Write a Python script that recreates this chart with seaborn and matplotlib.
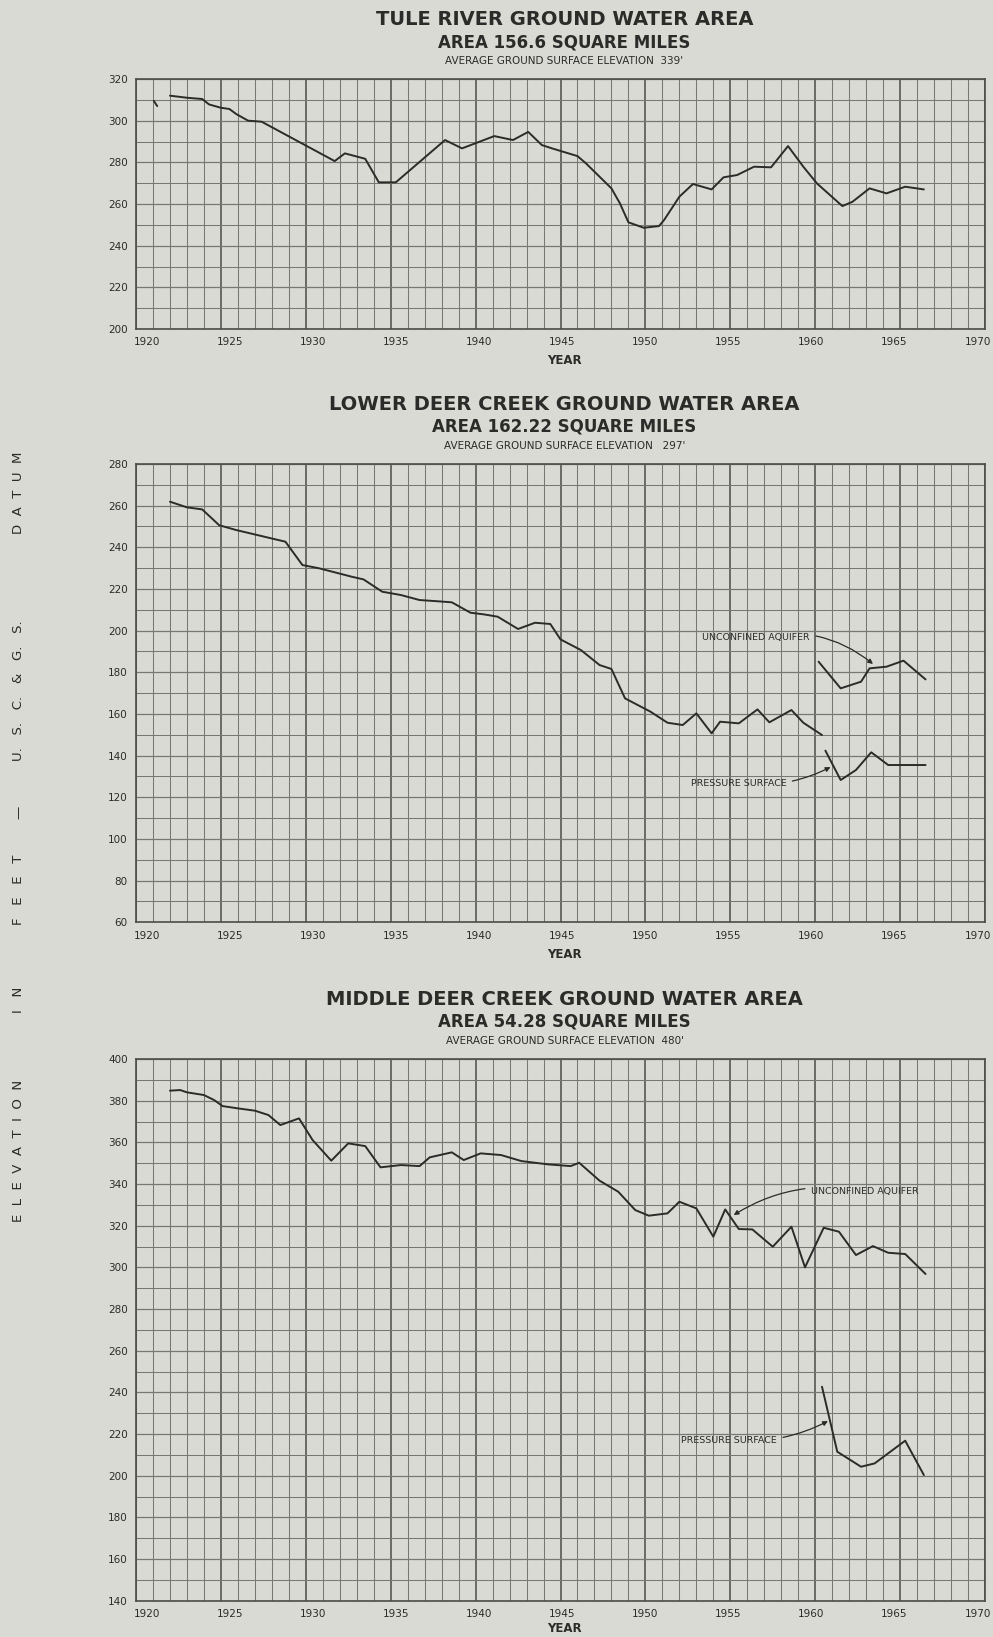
import matplotlib
matplotlib.use("Agg")
import matplotlib.pyplot as plt
from matplotlib.ticker import MultipleLocator
from matplotlib.transforms import ScaledTranslation
import seaborn as sns
import pandas as pd

# ---------------- DATA ----------------
# Panel 1: Tule River ground water area
tule_years = [1922.0, 1923.0, 1923.9, 1924.3, 1925.0, 1925.5, 1925.9, 1926.6, 1927.4,
              1931.7, 1932.3, 1933.5, 1934.3, 1935.3, 1938.2, 1939.2, 1941.1, 1942.2,
              1943.1, 1943.9, 1944.5, 1946.0, 1946.5, 1948.0, 1948.5, 1949.0, 1949.9,
              1950.8, 1951.1, 1952.0, 1952.8, 1953.9, 1954.6, 1955.4, 1956.4, 1957.4,
              1958.4, 1959.3, 1960.1, 1961.6, 1962.2, 1963.2, 1964.2, 1965.3, 1966.4]
tule_elev = [312, 311, 310.4, 307.8, 306.2, 305.6, 303.2, 300, 299.5,
             280.6, 284.3, 281.7, 270.4, 270.4, 290.7, 286.7, 292.6, 290.7,
             294.6, 288.3, 286.7, 283, 279.5, 267.5, 260.3, 251.2, 248.6,
             249.4, 252.3, 263.5, 269.6, 267, 272.8, 273.9, 277.9, 277.6,
             287.8, 277.9, 269.9, 259, 261.1, 267.5, 265.1, 268.3, 267]
tule_frag_years = [1921.05, 1921.25]
tule_frag_elev = [309.5, 307.0]

# Panel 2: Lower Deer Creek ground water area
lower_years = [1922.0, 1923.0, 1923.9, 1924.9, 1925.9, 1928.8, 1929.8, 1930.8, 1931.8,
               1932.7, 1933.4, 1934.5, 1935.6, 1936.7, 1937.6, 1938.6, 1939.7, 1940.5,
               1941.3, 1942.5, 1943.5, 1944.4, 1945.0, 1946.2, 1947.3, 1948.0, 1948.8,
               1950.3, 1951.3, 1952.2, 1953.0, 1953.9, 1954.4, 1955.5, 1956.6, 1957.3,
               1958.6, 1959.3, 1960.4]
lower_elev = [261.9, 259.2, 258.2, 250.6, 248.3, 242.7, 231.5, 229.9, 227.8,
              225.9, 224.6, 218.7, 217.1, 214.7, 214.2, 213.6, 208.6, 207.8,
              206.7, 200.8, 203.8, 203.2, 195.8, 190.7, 183.5, 181.6, 167.5,
              161.1, 155.8, 154.7, 160.3, 150.7, 156.3, 155.5, 162.2, 156.0,
              161.9, 155.8, 149.9]
lower_unconf_years = [1960.2, 1961.5, 1962.7, 1963.2, 1964.2, 1965.2, 1966.5]
lower_unconf_elev = [185.1, 172.3, 175.5, 181.9, 182.7, 185.6, 176.6]
lower_press_years = [1960.6, 1961.5, 1962.4, 1963.3, 1964.3, 1966.5]
lower_press_elev = [142.4, 128.3, 133.1, 141.6, 135.5, 135.5]

# Panel 3: Middle Deer Creek ground water area
middle_years = [1922.0, 1922.6, 1923.0, 1924.0, 1924.6, 1925.1, 1926.0, 1927.0, 1927.8,
                1928.5, 1929.6, 1930.4, 1931.5, 1932.5, 1933.5, 1934.4, 1935.6, 1936.7,
                1937.3, 1938.6, 1939.3, 1940.3, 1941.5, 1942.7, 1944.3, 1945.6, 1946.1,
                1947.3, 1948.4, 1949.4, 1950.2, 1951.3, 1952.0, 1953.0, 1954.0, 1954.7,
                1955.5, 1956.3, 1957.5, 1958.6, 1959.4, 1960.5, 1961.4, 1962.4, 1963.4,
                1964.3, 1965.3, 1966.5]
middle_elev = [384.8, 385.1, 384.0, 382.7, 380.3, 377.4, 376.3, 375.2, 373.1,
               368.3, 371.5, 361.1, 351.2, 359.5, 358.2, 348.0, 349.1, 348.6,
               352.8, 355.2, 351.5, 354.7, 353.9, 351.0, 349.4, 348.6, 350.2,
               341.6, 336.3, 327.5, 324.8, 325.9, 331.5, 328.3, 314.7, 327.8,
               318.4, 318.2, 309.9, 319.5, 300.0, 319.0, 317.1, 305.9, 310.2,
               307.0, 306.4, 296.8]
middle_press_years = [1960.4, 1961.3, 1962.7, 1963.5, 1965.3, 1966.4]
middle_press_elev = [242.7, 211.5, 204.3, 205.9, 216.8, 200.3]

# Text
titles = [
    ("TULE RIVER GROUND WATER AREA", "AREA 156.6 SQUARE MILES",
     "AVERAGE GROUND SURFACE ELEVATION  339'"),
    ("LOWER DEER CREEK GROUND WATER AREA", "AREA 162.22 SQUARE MILES",
     "AVERAGE GROUND SURFACE ELEVATION   297'"),
    ("MIDDLE DEER CREEK GROUND WATER AREA", "AREA 54.28 SQUARE MILES",
     "AVERAGE GROUND SURFACE ELEVATION  480'"),
]
year_ticks = [1920, 1925, 1930, 1935, 1940, 1945, 1950, 1955, 1960, 1965, 1970]
ylims = [(200, 320), (60, 280), (140, 400)]
ylabel_words = ["D  A  T  U  M", "U.   S.   C.   &   G.   S.", "—",
                "F   E   E   T", "I   N", "E  L  E  V  A  T  I  O  N"]

# ---------------- STYLE ----------------
sns.set_theme(style="white")
BG = "#d9dad3"
INK = "#2b2b29"
GRID_MINOR = "#777773"
GRID_MAJOR = "#4c4c48"
plt.rcParams["font.family"] = ["DejaVu Sans"]

fig = plt.figure(figsize=(9.93, 16.37), dpi=100, facecolor=BG)
H = 1637.0
W = 993.0
left = 136 / W
width = 849 / W
boxes = [(79, 329), (464, 922.3), (1059, 1600.7)]
title_y = [(19.5, 42, 61.5), (405, 426.7, 445.8), (999.5, 1021.7, 1040.8)]
year_label_px = [361, 955, 1629]

axes = []
for (top, bot) in boxes:
    ax = fig.add_axes([left, 1 - bot / H, width, (bot - top) / H])
    ax.set_facecolor(BG)
    axes.append(ax)


def draw(ax, xs, ys):
    df = pd.DataFrame({"year": xs, "elev": ys})
    sns.lineplot(data=df, x="year", y="elev", ax=ax, sort=False,
                 estimator=None, color=INK, lw=1.4)


draw(axes[0], tule_frag_years, tule_frag_elev)
draw(axes[0], tule_years, tule_elev)
draw(axes[1], lower_years, lower_elev)
draw(axes[1], lower_unconf_years, lower_unconf_elev)
draw(axes[1], lower_press_years, lower_press_elev)
draw(axes[2], middle_years, middle_elev)
draw(axes[2], middle_press_years, middle_press_elev)

for ax, lim, (top, bot), ypx in zip(axes, ylims, boxes, year_label_px):
    ax.set_xlim(1920, 1970)
    ax.set_ylim(*lim)
    ax.xaxis.set_minor_locator(MultipleLocator(1))
    ax.yaxis.set_major_locator(MultipleLocator(20))
    ax.yaxis.set_minor_locator(MultipleLocator(10))
    ax.grid(which="minor", axis="both", color=GRID_MINOR, lw=0.75)
    ax.grid(which="major", axis="y", color=GRID_MINOR, lw=0.9)
    ax.grid(which="major", axis="x", color=GRID_MAJOR, lw=1.1)
    ax.set_axisbelow(True)
    for s in ax.spines.values():
        s.set_visible(True)
        s.set_color(GRID_MAJOR)
        s.set_linewidth(1.2)
    ax.set_xticks(year_ticks)
    ax.set_xticklabels([str(y) for y in year_ticks])
    ax.tick_params(which="both", length=0)
    ax.tick_params(axis="both", pad=6, labelsize=7.5, labelcolor=INK)
    ax.set_ylabel("")
    ax.set_xlabel("YEAR", fontsize=8.5, fontweight="bold", color=INK)
    ax.xaxis.set_label_coords(0.5 + 4 / 849, -(ypx - bot) / (bot - top))
    ax.xaxis.label.set_va("center")
    # hand-lettered year labels drift slightly relative to the grid
    for lbl, yr in zip(ax.get_xticklabels(), year_ticks):
        dx = (11 - (yr - 1920) * 0.37) / 100.0
        lbl.set_transform(lbl.get_transform() +
                          ScaledTranslation(dx, 0, fig.dpi_scale_trans))

# Titles
cx = (136 + 985) / 2 / W + 4 / W
for (t1, t2, t3), (y1, y2, y3) in zip(titles, title_y):
    fig.text(cx, 1 - y1 / H, t1, ha="center", va="center", fontsize=14,
             fontweight="bold", color=INK)
    fig.text(cx, 1 - y2 / H, t2, ha="center", va="center", fontsize=12,
             fontweight="bold", color=INK)
    fig.text(cx, 1 - y3 / H, t3, ha="center", va="center", fontsize=7.5,
             color=INK)

# Spaced vertical axis caption
word_centres = [493, 691, 812, 890, 1000, 1151]
for word, yc in zip(ylabel_words, word_centres):
    fig.text(19 / W, 1 - yc / H, word, rotation=90, ha="center", va="center",
             fontsize=9.5, color=INK)

# Annotations
arrow = dict(arrowstyle="-|>", color=INK, lw=0.9, mutation_scale=7,
             shrinkA=2, shrinkB=0)
ann_kw = dict(fontsize=6.8, color=INK, va="center")
axes[1].annotate("UNCONFINED AQUIFER", xy=(1963.4, 184.0), xytext=(1959.7, 196.5),
                 ha="right", arrowprops=dict(connectionstyle="arc3,rad=-0.25", **arrow),
                 **ann_kw)
axes[1].annotate("PRESSURE SURFACE", xy=(1960.9, 134.5), xytext=(1958.3, 126.4),
                 ha="right", arrowprops=dict(connectionstyle="arc3,rad=0.15", **arrow),
                 **ann_kw)
axes[2].annotate("UNCONFINED AQUIFER", xy=(1955.2, 325.1), xytext=(1959.75, 336.6),
                 ha="left", arrowprops=dict(connectionstyle="arc3,rad=0.2", **arrow),
                 **ann_kw)
axes[2].annotate("PRESSURE SURFACE", xy=(1960.75, 226.2), xytext=(1957.75, 217.1),
                 ha="right", arrowprops=dict(connectionstyle="arc3,rad=0.15", **arrow),
                 **ann_kw)

fig.savefig("out.png", dpi=100, facecolor=BG)
